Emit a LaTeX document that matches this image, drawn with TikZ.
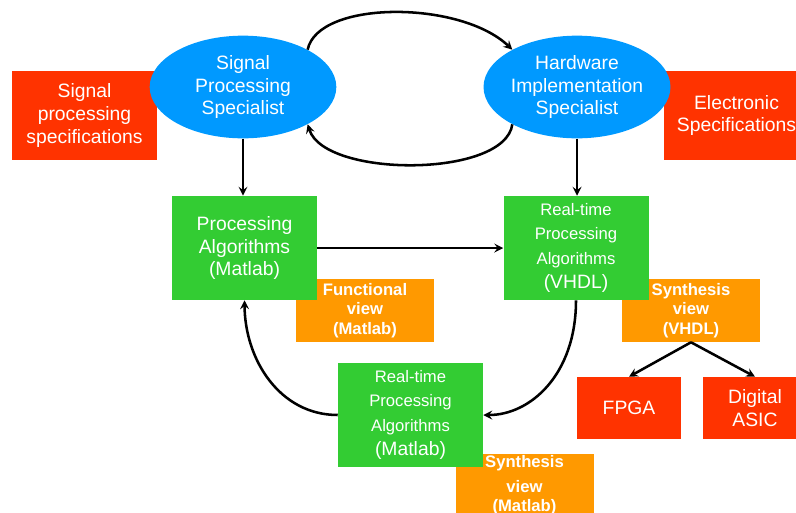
\documentclass[tikz,border=0pt]{standalone}
\usepackage{fontspec}
\setmainfont{Liberation Sans}
\usetikzlibrary{shapes.geometric,arrows}
\definecolor{specred}{HTML}{FF3300}
\definecolor{personblue}{HTML}{0099FF}
\definecolor{algogreen}{HTML}{33CC33}
\definecolor{vieworange}{HTML}{FF9900}

\begin{document}
\begin{tikzpicture}[x=0.75pt,y=-0.75pt,>=stealth,
  every node/.style={text=white,align=center,inner sep=0pt,font=\fontsize{14.5}{17}\selectfont},
  person/.style={ellipse,fill=personblue,minimum width=140pt,minimum height=77pt},
  spec/.style={fill=specred,minimum width=108.75pt,minimum height=66.75pt},
  hwbox/.style={fill=specred,minimum width=78pt,minimum height=46.5pt},
  algo/.style={fill=algogreen,minimum width=108.75pt,minimum height=78pt},
  rtalgo/.style={algo,font=\fontsize{12.5}{18.4}\selectfont},
  view/.style={fill=vieworange,minimum width=103.5pt,minimum height=47.25pt,font=\fontsize{12.5}{14.6}\selectfont\bfseries},
  link/.style={->,line width=1.9pt}]
{
\useasboundingbox (0,0) rectangle (796,512);
\node[spec] (sps-spec) at (84.5,115.5) {Signal\\processing\\specifications};
\node[spec] (hws-spec) at (736.5,115.5) {Electronic\\Specifications};
\node[person] (sps) at (243,87) {Signal\\Processing\\Specialist};
\node[person] (hws) at (577,87) {Hardware\\Implementation\\Specialist};
\node[view] (fview) at (365,310.5) {Functional\\view\\(Matlab)};
\node[view] (sview) at (691,310.5) {Synthesis\\view\\(VHDL)};
\node[view] (mview) at (524.5,485.5) {Synthesis\\[4pt]view\\(Matlab)};
\node[algo] (alg) at (244.5,248) {Processing\\Algorithms\\(Matlab)};
\node[rtalgo] (rtv) at (576,248) {Real-time\\Processing\\Algorithms\\{\fontsize{14.5}{17}\selectfont(VHDL)}};
\node[rtalgo] (rtm) at (410.5,415) {Real-time\\Processing\\Algorithms\\{\fontsize{14.5}{17}\selectfont(Matlab)}};
\node[hwbox] (fpga) at (629,408) {FPGA};
\node[hwbox] (asic) at (755,408) {Digital\\ASIC};
\foreach \a/\b in {sps/alg,hws/rtv}{
\draw[link] (\a.south) -- (\a.south |- \b.north);
}
\draw[link] (alg) -- (rtv);
\draw[link] (sps.30) .. controls (318,0) and (460,0) .. (hws.150);
\draw[link] (hws.210) .. controls (505,178) and (325,178) .. (sps.330);
\draw[link] (rtv.south) .. controls (576,375) and (530,415) .. (rtm.east);
\draw[link] (rtm.west) .. controls (280,415) and (245,360) .. (alg.south);
\draw[link] (sview.south) -- (fpga.north);
\draw[link] (sview.south) -- (asic.north);
}
\end{tikzpicture}
\end{document}
